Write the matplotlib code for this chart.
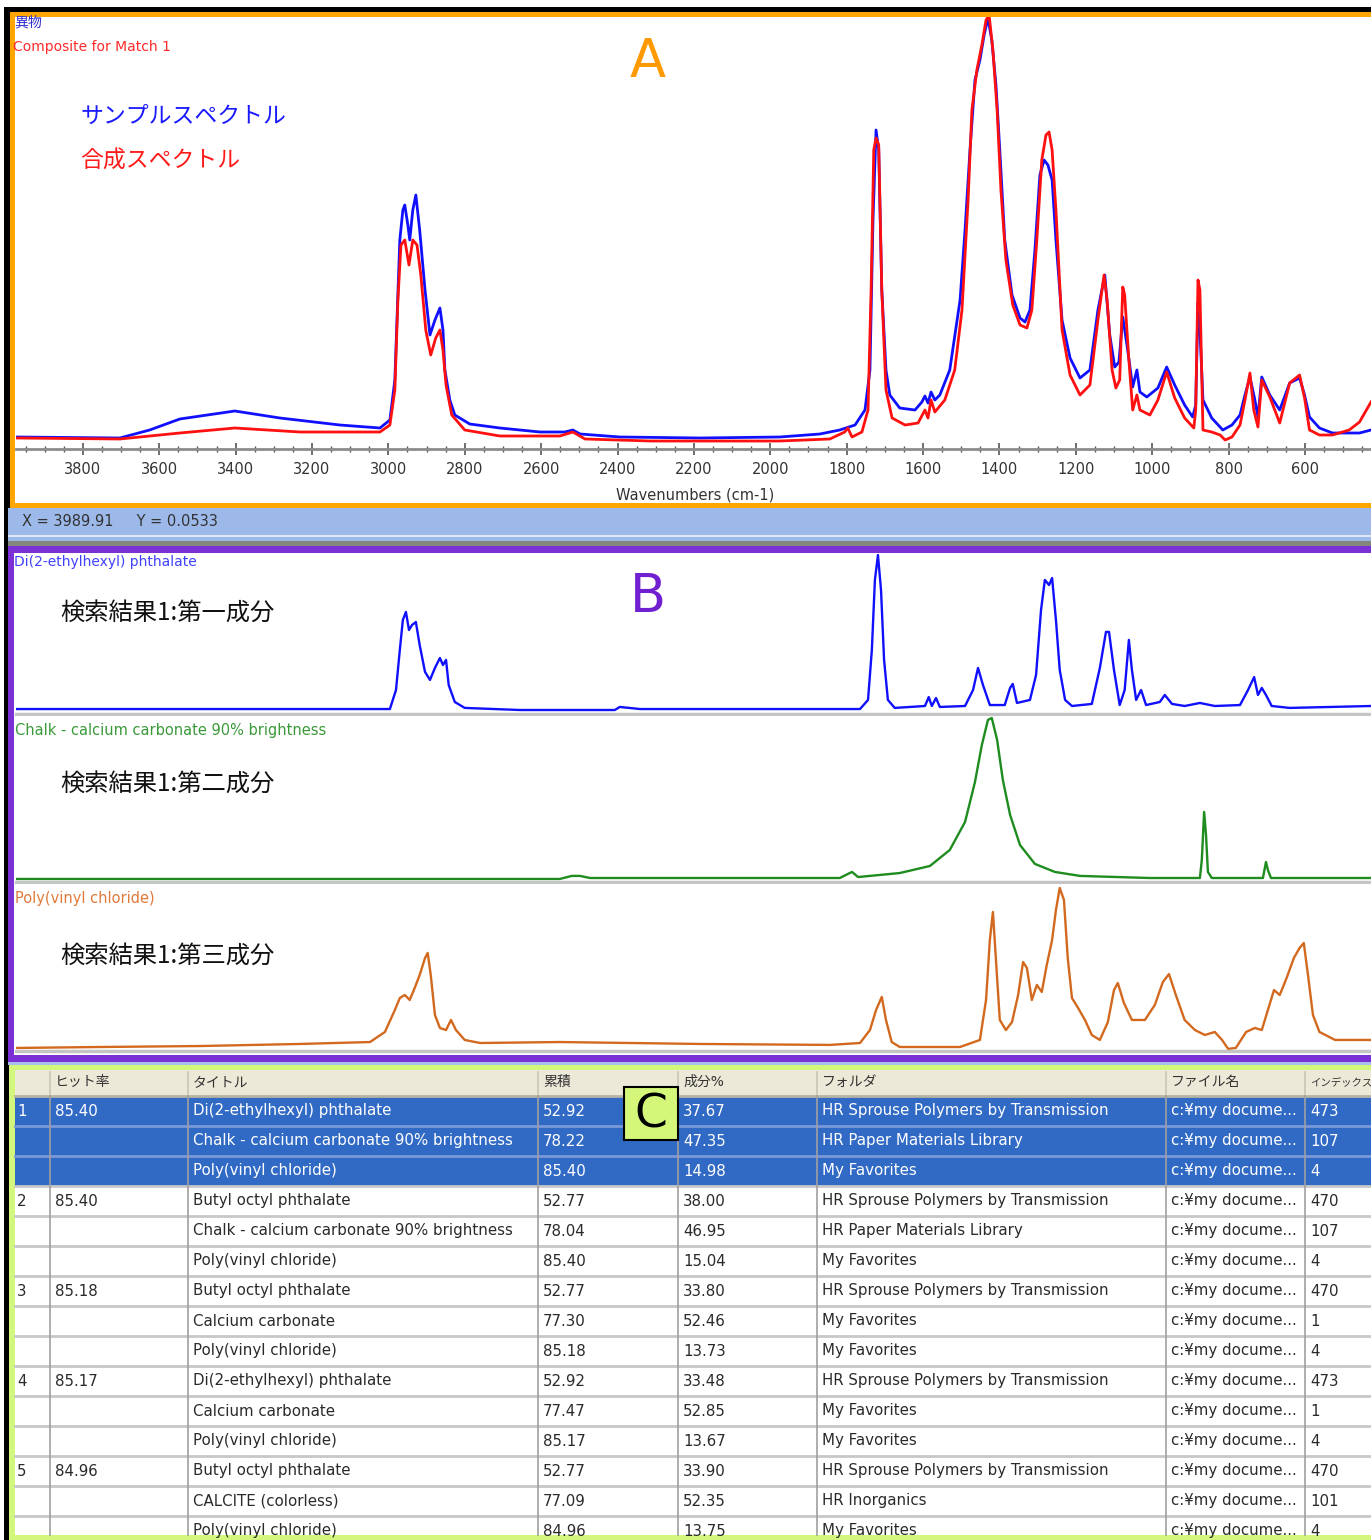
import numpy as np
import matplotlib
matplotlib.use('Agg')
import matplotlib.pyplot as plt
from matplotlib.patches import Rectangle
from matplotlib.ticker import MultipleLocator

plt.rcParams['font.family'] = ['DejaVu Sans', 'Noto Sans CJK JP']
JP = ['Noto Sans CJK JP', 'DejaVu Sans']

# ---- spectra: (wavenumber cm-1, absorbance) ----
sample = [(3975, 0.024), (3703, 0.022), (3625, 0.038), (3546, 0.060), (3402, 0.076), (3284, 0.062),
          (3127, 0.048), (3022, 0.042), (2996, 0.058), (2983, 0.138), (2970, 0.418), (2962, 0.478),
          (2957, 0.488), (2949, 0.448), (2944, 0.418), (2936, 0.478), (2928, 0.508), (2918, 0.438),
          (2904, 0.318), (2891, 0.228), (2878, 0.258), (2865, 0.282), (2857, 0.238), (2852, 0.158),
          (2839, 0.098), (2826, 0.068), (2787, 0.050), (2708, 0.042), (2603, 0.034), (2538, 0.034),
          (2517, 0.038), (2498, 0.030), (2394, 0.024), (2184, 0.022), (1975, 0.024), (1870, 0.030),
          (1818, 0.038), (1778, 0.048), (1752, 0.078), (1739, 0.158), (1731, 0.458), (1723, 0.638),
          (1716, 0.598), (1708, 0.318), (1697, 0.158), (1687, 0.108), (1661, 0.082), (1621, 0.078),
          (1603, 0.094), (1595, 0.106), (1587, 0.092), (1579, 0.114), (1569, 0.098), (1556, 0.108),
          (1530, 0.158), (1503, 0.298), (1490, 0.438), (1477, 0.598), (1464, 0.738), (1451, 0.778),
          (1440, 0.828), (1430, 0.862), (1420, 0.818), (1409, 0.728), (1399, 0.598), (1386, 0.418),
          (1367, 0.308), (1346, 0.262), (1333, 0.254), (1320, 0.278), (1307, 0.398), (1294, 0.548),
          (1283, 0.578), (1273, 0.568), (1262, 0.538), (1252, 0.418), (1236, 0.258), (1215, 0.182),
          (1189, 0.142), (1163, 0.158), (1142, 0.278), (1124, 0.348), (1111, 0.228), (1098, 0.164),
          (1087, 0.174), (1077, 0.264), (1066, 0.208), (1051, 0.124), (1040, 0.158), (1032, 0.114),
          (1014, 0.104), (985, 0.122), (962, 0.164), (941, 0.128), (915, 0.088), (894, 0.064),
          (886, 0.088), (880, 0.292), (875, 0.238), (867, 0.098), (844, 0.062), (815, 0.038),
          (791, 0.048), (770, 0.068), (757, 0.108), (744, 0.144), (731, 0.098), (723, 0.064),
          (713, 0.144), (692, 0.108), (666, 0.078), (640, 0.132), (614, 0.142), (601, 0.108),
          (588, 0.064), (562, 0.042), (528, 0.032), (457, 0.032), (427, 0.038)]

composite = [(3975, 0.022), (3703, 0.020), (3546, 0.032), (3402, 0.042), (3232, 0.034), (3022, 0.034),
             (2996, 0.048), (2983, 0.118), (2975, 0.298), (2967, 0.408), (2957, 0.418), (2946, 0.368),
             (2936, 0.418), (2925, 0.408), (2915, 0.348), (2902, 0.238), (2889, 0.188), (2876, 0.222),
             (2865, 0.238), (2857, 0.198), (2849, 0.128), (2834, 0.068), (2800, 0.038), (2708, 0.026),
             (2551, 0.026), (2517, 0.034), (2485, 0.020), (2315, 0.016), (1975, 0.016), (1844, 0.020),
             (1805, 0.034), (1797, 0.042), (1786, 0.024), (1760, 0.034), (1744, 0.078), (1736, 0.318),
             (1729, 0.598), (1723, 0.622), (1716, 0.608), (1708, 0.318), (1697, 0.118), (1681, 0.062),
             (1647, 0.048), (1613, 0.052), (1595, 0.078), (1587, 0.062), (1579, 0.098), (1569, 0.074),
             (1543, 0.098), (1517, 0.158), (1498, 0.278), (1482, 0.498), (1472, 0.678), (1459, 0.758),
             (1446, 0.808), (1435, 0.858), (1427, 0.868), (1417, 0.798), (1406, 0.678), (1396, 0.518),
             (1383, 0.378), (1365, 0.288), (1346, 0.248), (1328, 0.242), (1315, 0.278), (1302, 0.418),
             (1289, 0.578), (1278, 0.628), (1270, 0.634), (1262, 0.598), (1252, 0.478), (1236, 0.238),
             (1215, 0.148), (1189, 0.108), (1163, 0.128), (1142, 0.258), (1126, 0.348), (1118, 0.298),
             (1105, 0.158), (1095, 0.122), (1085, 0.138), (1077, 0.324), (1072, 0.308), (1061, 0.178),
             (1051, 0.078), (1040, 0.108), (1032, 0.078), (1006, 0.068), (985, 0.098), (962, 0.154),
             (941, 0.102), (915, 0.062), (891, 0.042), (886, 0.078), (880, 0.338), (875, 0.318),
             (867, 0.038), (844, 0.034), (822, 0.028), (809, 0.018), (791, 0.024), (770, 0.048),
             (757, 0.098), (744, 0.152), (734, 0.078), (723, 0.044), (713, 0.138), (692, 0.104),
             (666, 0.052), (640, 0.132), (614, 0.148), (601, 0.102), (588, 0.038), (562, 0.028),
             (528, 0.028), (484, 0.038), (457, 0.054), (427, 0.094)]

dehp = [(3975, 0.031), (2996, 0.031), (2980, 0.150), (2970, 0.400), (2962, 0.588), (2954, 0.638),
        (2946, 0.525), (2938, 0.556), (2928, 0.575), (2918, 0.431), (2904, 0.263), (2891, 0.213),
        (2878, 0.288), (2865, 0.350), (2857, 0.306), (2849, 0.338), (2842, 0.181), (2826, 0.075),
        (2800, 0.038), (2656, 0.025), (2407, 0.025), (2394, 0.044), (2341, 0.031), (1765, 0.031),
        (1744, 0.088), (1734, 0.400), (1726, 0.838), (1718, 0.994), (1710, 0.775), (1702, 0.338),
        (1692, 0.088), (1674, 0.038), (1595, 0.050), (1585, 0.106), (1577, 0.050), (1566, 0.100),
        (1556, 0.044), (1490, 0.050), (1469, 0.150), (1456, 0.288), (1443, 0.181), (1425, 0.056),
        (1386, 0.056), (1372, 0.163), (1365, 0.188), (1354, 0.069), (1320, 0.088), (1304, 0.244),
        (1291, 0.650), (1281, 0.838), (1270, 0.806), (1262, 0.850), (1252, 0.588), (1242, 0.275),
        (1228, 0.088), (1210, 0.050), (1158, 0.063), (1137, 0.288), (1121, 0.513), (1113, 0.513),
        (1100, 0.275), (1085, 0.056), (1072, 0.150), (1061, 0.463), (1053, 0.275), (1042, 0.088),
        (1029, 0.150), (1016, 0.056), (980, 0.075), (967, 0.119), (948, 0.063), (915, 0.050),
        (875, 0.069), (836, 0.050), (770, 0.056), (749, 0.150), (733, 0.231), (723, 0.119),
        (713, 0.163), (702, 0.119), (687, 0.050), (640, 0.038), (427, 0.050)]

chalk = [(3975, 0.019), (2551, 0.019), (2520, 0.038), (2498, 0.038), (2472, 0.025), (1818, 0.025),
         (1797, 0.050), (1786, 0.063), (1770, 0.031), (1661, 0.056), (1582, 0.100), (1530, 0.200),
         (1490, 0.375), (1464, 0.625), (1446, 0.856), (1430, 1.013), (1420, 1.025), (1406, 0.888),
         (1391, 0.638), (1372, 0.419), (1346, 0.231), (1307, 0.113), (1255, 0.063), (1189, 0.038),
         (1006, 0.025), (875, 0.025), (870, 0.138), (864, 0.438), (859, 0.294), (854, 0.063),
         (844, 0.025), (710, 0.025), (702, 0.125), (697, 0.075), (689, 0.025), (427, 0.025)]

pvc = [(3975, 0.019), (3755, 0.025), (3494, 0.031), (3232, 0.044), (3048, 0.056), (3009, 0.119),
       (2983, 0.256), (2970, 0.331), (2957, 0.350), (2944, 0.319), (2931, 0.394), (2918, 0.475),
       (2904, 0.581), (2897, 0.613), (2889, 0.475), (2878, 0.225), (2865, 0.144), (2849, 0.131),
       (2836, 0.194), (2823, 0.131), (2800, 0.069), (2760, 0.050), (2551, 0.056), (2184, 0.044),
       (1844, 0.038), (1765, 0.050), (1739, 0.131), (1723, 0.256), (1708, 0.338), (1697, 0.194),
       (1682, 0.056), (1661, 0.025), (1503, 0.025), (1451, 0.069), (1435, 0.319), (1425, 0.694),
       (1417, 0.869), (1409, 0.569), (1399, 0.194), (1383, 0.131), (1367, 0.181), (1351, 0.350),
       (1338, 0.556), (1328, 0.519), (1315, 0.319), (1302, 0.413), (1289, 0.369), (1276, 0.538),
       (1262, 0.694), (1252, 0.881), (1242, 1.019), (1231, 0.944), (1221, 0.581), (1210, 0.331),
       (1194, 0.269), (1176, 0.194), (1158, 0.100), (1137, 0.069), (1116, 0.181), (1100, 0.381),
       (1090, 0.425), (1074, 0.300), (1053, 0.194), (1019, 0.194), (993, 0.288), (972, 0.431),
       (956, 0.481), (938, 0.350), (915, 0.194), (888, 0.131), (862, 0.100), (836, 0.119),
       (817, 0.069), (801, 0.013), (781, 0.019), (754, 0.119), (731, 0.144), (713, 0.131),
       (697, 0.256), (681, 0.381), (666, 0.350), (648, 0.456), (629, 0.581), (614, 0.644),
       (603, 0.675), (592, 0.475), (579, 0.225), (562, 0.119), (521, 0.069), (427, 0.069)]

# ---- search result table ----
headers = ['', 'ヒット率', 'タイトル', '累積', '成分%', 'フォルダ', 'ファイル名', 'インデックス']
ranks = ['1', '', '', '2', '', '', '3', '', '', '4', '', '', '5', '', '']
hits = ['85.40', '', '', '85.40', '', '', '85.18', '', '', '85.17', '', '', '84.96', '', '']
titles = ['Di(2-ethylhexyl) phthalate', 'Chalk - calcium carbonate 90% brightness', 'Poly(vinyl chloride)',
          'Butyl octyl phthalate', 'Chalk - calcium carbonate 90% brightness', 'Poly(vinyl chloride)',
          'Butyl octyl phthalate', 'Calcium carbonate', 'Poly(vinyl chloride)',
          'Di(2-ethylhexyl) phthalate', 'Calcium carbonate', 'Poly(vinyl chloride)',
          'Butyl octyl phthalate', 'CALCITE (colorless)', 'Poly(vinyl chloride)']
cumulative = ['52.92', '78.22', '85.40', '52.77', '78.04', '85.40', '52.77', '77.30', '85.18',
              '52.92', '77.47', '85.17', '52.77', '77.09', '84.96']
component = ['37.67', '47.35', '14.98', '38.00', '46.95', '15.04', '33.80', '52.46', '13.73',
             '33.48', '52.85', '13.67', '33.90', '52.35', '13.75']
folders = ['HR Sprouse Polymers by Transmission', 'HR Paper Materials Library', 'My Favorites',
           'HR Sprouse Polymers by Transmission', 'HR Paper Materials Library', 'My Favorites',
           'HR Sprouse Polymers by Transmission', 'My Favorites', 'My Favorites',
           'HR Sprouse Polymers by Transmission', 'My Favorites', 'My Favorites',
           'HR Sprouse Polymers by Transmission', 'HR Inorganics', 'My Favorites']
files = ['c:¥my docume...'] * 15
indexes = ['473', '107', '4', '470', '107', '4', '470', '1', '4', '473', '1', '4', '470', '101', '4']

W, H = 1371, 1540
fig = plt.figure(figsize=(W / 100, H / 100), dpi=100)


def pax(x0, y0, x1, y1, **kw):
    # axes placed by pixel box, y measured from the top
    return fig.add_axes([x0 / W, 1 - y1 / H, (x1 - x0) / W, (y1 - y0) / H], **kw)


def box(ax, x0, y0, x1, y1, **kw):
    ax.add_patch(Rectangle((x0, y0), x1 - x0, y1 - y0, linewidth=0, **kw))


bg = pax(0, 0, W, H)
bg.set_xlim(0, W)
bg.set_ylim(H, 0)
bg.axis('off')

# window frames
box(bg, 4, 7, W, H, color='black')
box(bg, 10, 12, W + 20, 508, color='#ffa500')
box(bg, 15, 17, W + 20, 503, color='white')
box(bg, 8, 508, W, 535, color='#9db9e9')
box(bg, 8, 535, W, 537, color='#dfe8f6')
box(bg, 8, 537, W, 541, color='#9db9e9')
box(bg, 8, 541, W, 546, color='#86877c')
box(bg, 8, 546, W, 1062, color='#7b30d6')
box(bg, 14, 553, W, 1055, color='white')
box(bg, 8, 1062, W, 1065, color='#a6bfeb')
box(bg, 9, 1065, W, H, color='#d3f77c')
box(bg, 15, 1070, W, 1535, color='white')

# table
col_x = [15, 50, 188, 538, 678, 817, 1166, 1305]
head_size = [10, 10, 10, 10, 10, 10, 10, 7.5]
row_h = 30
top = 1096
box(bg, 15, 1070, W, top, color='#ece9d8')
for cx, head, fs in zip(col_x, headers, head_size):
    bg.text(cx + 5, 1082, head, fontsize=fs, color='#333333', va='center')
    if cx > 15:
        bg.plot([cx, cx], [1072, top - 2], color='#c9c6b8', lw=1.2)
bg.plot([15, W], [top, top], color='#b8b4a4', lw=2)

columns = [ranks, hits, titles, cumulative, component, folders, files, indexes]
for i in range(len(titles)):
    y0 = top + i * row_h
    selected = i < 3
    if selected:
        box(bg, 15, y0, W, y0 + row_h, color='#316ac5')
    txt_color = 'white' if selected else '#2a2a2a'
    for j, (cx, col) in enumerate(zip(col_x, columns)):
        xoff = 2 if j == 0 else 5
        bg.text(cx + xoff, y0 + row_h / 2, col[i], fontsize=10.8, color=txt_color, va='center')
    line_c = '#7a9ad8' if i < 2 else '#c8c8c8'
    bg.plot([15, W], [y0 + row_h, y0 + row_h], color=line_c, lw=2)
for cx in col_x[1:]:
    bg.plot([cx, cx], [top, 1535], color='#a0a0a0', lw=1.2)
box(bg, 9, 1535, W, H, color='#d3f77c')


def spectrum_axes(x0, y0, x1, y1, ymax):
    ax = pax(x0, y0, x1, y1)
    ax.set_xlim(3975, 427)
    ax.set_ylim(0, ymax)
    for side in ['top', 'left', 'right']:
        ax.spines[side].set_visible(False)
    ax.set_yticks([])
    return ax


# panel A: sample vs composite
axA = spectrum_axes(16, 17, W, 449, (449 - 17) / 500)
wn, ab = np.array(sample).T
axA.plot(wn, ab, color='#1010ff', lw=2.0)
wn, ab = np.array(composite).T
axA.plot(wn, ab, color='#ff1010', lw=2.0)
axA.spines['bottom'].set_color('#8c8c8c')
axA.spines['bottom'].set_linewidth(2)
axA.xaxis.set_major_locator(MultipleLocator(200))
axA.xaxis.set_minor_locator(MultipleLocator(50))
axA.tick_params(axis='x', which='major', direction='inout', length=8, width=1.2,
                color='#555555', labelsize=10.5, labelcolor='#333333', pad=5)
axA.tick_params(axis='x', which='minor', direction='inout', length=5, width=1, color='#555555')

# panel B: the three matched components
B_specs = [(dehp, 553, 714, '#1010ff'), (chalk, 716, 882, '#1e8c1e'), (pvc, 884, 1051, '#d2691e')]
for data, y0, y1, c in B_specs:
    ax = spectrum_axes(16, y0, W, y1, (y1 - y0) / 160)
    wn, ab = np.array(data).T
    ax.plot(wn, ab, color=c, lw=1.7)
    ax.spines['bottom'].set_color('#c4c4c4')
    ax.spines['bottom'].set_linewidth(2.5)
    ax.set_xticks([])

# overlay text
ov = pax(0, 0, W, H)
ov.set_xlim(0, W)
ov.set_ylim(H, 0)
ov.axis('off')
ov.patch.set_alpha(0)

ov.text(14, 23, '異物', fontsize=10, color='#3030d0', va='center', family=JP)
ov.text(13, 47, 'Composite for Match 1', fontsize=10, color='#ff2a2a', va='center')
ov.text(648, 62, 'A', fontsize=38, color='#ff9900', ha='center', va='center')
ov.text(80, 116, 'サンプルスペクトル', fontsize=16.5, color='#1a1aff', va='center', family=JP)
ov.text(80, 161, '合成スペクトル', fontsize=16.5, color='#ff1a1a', va='center', family=JP)
ov.text(695, 495, 'Wavenumbers (cm-1)', fontsize=10.5, color='#333333', ha='center', va='center')
ov.text(22, 522, 'X = 3989.91     Y = 0.0533', fontsize=10.5, color='#333333', va='center')

ov.text(14, 562, 'Di(2-ethylhexyl) phthalate', fontsize=10, color='#4040ff', va='center')
ov.text(60, 614, '検索結果1:第一成分', fontsize=17.5, color='#111111', va='center', family=JP)
ov.text(648, 597, 'B', fontsize=38, color='#7020d0', ha='center', va='center')
ov.text(15, 730, 'Chalk - calcium carbonate 90% brightness', fontsize=10.5, color='#3a9a3a', va='center')
ov.text(60, 785, '検索結果1:第二成分', fontsize=17.5, color='#111111', va='center', family=JP)
ov.text(15, 898, 'Poly(vinyl chloride)', fontsize=10.5, color='#e07a3a', va='center')
ov.text(60, 957, '検索結果1:第三成分', fontsize=17.5, color='#111111', va='center', family=JP)

ov.add_patch(Rectangle((624, 1087), 54, 53, facecolor='#d4f77a', edgecolor='black', lw=1.5))
ov.text(651, 1115, 'C', fontsize=34, color='black', ha='center', va='center')

fig.savefig('out.png', dpi=100)
